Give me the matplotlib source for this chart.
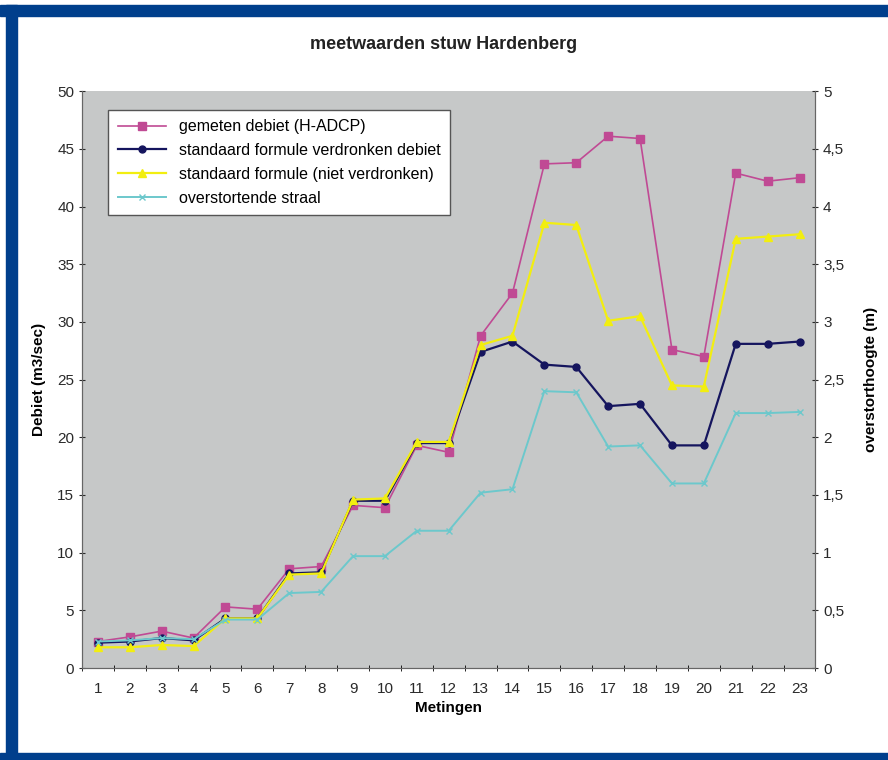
import numpy as np
import matplotlib.pyplot as plt
from matplotlib.patches import Rectangle
from matplotlib.ticker import FuncFormatter

plt.rcParams['font.family'] = ['Liberation Sans', 'DejaVu Sans']

metingen = list(range(1, 24))

gemeten = [2.3, 2.7, 3.2, 2.6, 5.3, 5.1, 8.6, 8.8, 14.1, 13.9, 19.3, 18.7,
           28.8, 32.5, 43.7, 43.8, 46.1, 45.9, 27.6, 27.0, 42.9, 42.2, 42.5]
verdronken = [2.2, 2.3, 2.6, 2.4, 4.3, 4.3, 8.2, 8.3, 14.5, 14.5, 19.5, 19.5,
              27.4, 28.3, 26.3, 26.1, 22.7, 22.9, 19.3, 19.3, 28.1, 28.1, 28.3]
niet_verdronken = [1.8, 1.8, 2.0, 1.9, 4.3, 4.3, 8.1, 8.2, 14.6, 14.7, 19.6, 19.6,
                   28.0, 28.8, 38.6, 38.4, 30.1, 30.5, 24.5, 24.4, 37.2, 37.4, 37.6]
straal = [0.23, 0.24, 0.26, 0.25, 0.42, 0.42, 0.65, 0.66, 0.97, 0.97, 1.19, 1.19,
          1.52, 1.55, 2.40, 2.39, 1.92, 1.93, 1.60, 1.60, 2.21, 2.21, 2.22]

fig = plt.figure(figsize=(8.88, 7.6), dpi=100)

# blauwe rand om de figuur
blauw = '#003f8c'
fig.patches.append(Rectangle((0, 0.0), 1, 0.009, transform=fig.transFigure, color=blauw, zorder=0))
fig.patches.append(Rectangle((0, 0.979), 1, 0.014, transform=fig.transFigure, color=blauw, zorder=0))
fig.patches.append(Rectangle((0.007, 0), 0.012, 0.993, transform=fig.transFigure, color=blauw, zorder=0))

ax = fig.add_axes([0.0923, 0.121, 0.826, 0.759])
ax.set_facecolor('#c6c8c8')
ax2 = ax.twinx()

x = np.array(metingen)
l1, = ax.plot(x, gemeten, color='#c04a94', marker='s', markersize=6, lw=1.2,
              label='gemeten debiet (H-ADCP)')
l2, = ax.plot(x, verdronken, color='#15155e', marker='o', markersize=5, lw=1.6,
              label='standaard formule verdronken debiet')
l3, = ax.plot(x, niet_verdronken, color='#f2ee10', marker='^', markersize=6, lw=1.6,
              label='standaard formule (niet verdronken)')
l4, = ax2.plot(x, straal, color='#6cc8cc', marker='x', markersize=4, lw=1.4,
               label='overstortende straal')

ax.set_xlim(0.5, 23.5)
ax.set_ylim(0, 50)
ax2.set_ylim(0, 5)
ax.set_yticks(np.arange(0, 51, 5))
ax2.set_yticks(np.arange(0, 5.01, 0.5))
ax2.yaxis.set_major_formatter(FuncFormatter(lambda v, p: ('%g' % v).replace('.', ',')))

ax.set_xticks(x)
ax.set_xticks(np.arange(0.5, 23.6, 1), minor=True)
ax.tick_params(axis='x', which='major', length=0, pad=10)
ax.tick_params(axis='x', which='minor', length=5, direction='inout')
ax.tick_params(axis='y', length=4, direction='inout')
ax2.tick_params(axis='y', length=4, direction='inout')
for a in (ax, ax2):
    a.tick_params(labelsize=11, colors='#2a2a2a')
    for s in a.spines.values():
        s.set_color('#666666')
ax.spines['top'].set_visible(False)
ax2.spines['top'].set_visible(False)

ax.set_xlabel('Metingen', fontsize=11, fontweight='bold', labelpad=4)
ax.set_ylabel('Debiet (m3/sec)', fontsize=11, fontweight='bold', labelpad=8)
ax2.set_ylabel('overstorthoogte (m)', fontsize=11, fontweight='bold', labelpad=14)
fig.text(0.5, 0.935, 'meetwaarden stuw Hardenberg', ha='center', fontsize=13,
         fontweight='bold', color='#222222')

leg = ax.legend(handles=[l1, l2, l3, l4], loc='upper left', bbox_to_anchor=(0.025, 0.982),
                fontsize=11.5, frameon=True, fancybox=False, edgecolor='#555555',
                facecolor='white', framealpha=1.0,
                handlelength=3, borderpad=0.6, labelspacing=0.55)
leg.get_frame().set_linewidth(1.0)

fig.savefig('out.png', dpi=100)
